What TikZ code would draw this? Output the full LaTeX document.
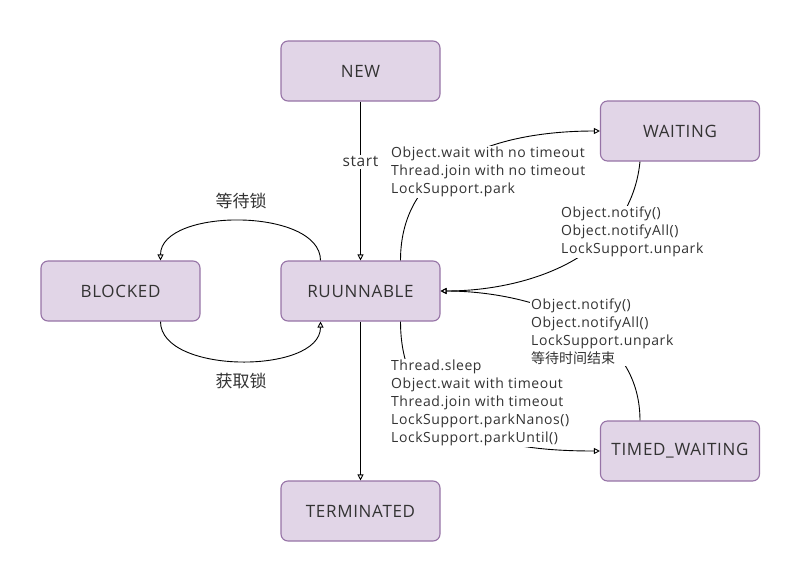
\documentclass[tikz,border=0pt]{standalone}
\usepackage{fontspec}
\setmainfont{Open Sans}[LetterSpace=4]
\newfontfamily\cjk{Noto Sans CJK SC}
\usetikzlibrary{arrows.meta}
\definecolor{boxfill}{HTML}{E1D5E7}
\definecolor{boxline}{HTML}{9673A6}
\definecolor{txt}{HTML}{333333}
\begin{document}
\begin{tikzpicture}[x=1pt,y=-1pt,
  state/.style={draw=boxline, fill=boxfill, line width=1.1pt, rounded corners=7pt,
    minimum width=159pt, minimum height=60pt, text=txt, font=\fontsize{17}{20}\selectfont},
  lbl/.style={fill=white, align=left, inner sep=1pt, text=txt, font=\fontsize{14}{18}\selectfont, anchor=west},
  cn/.style={fill=white, inner sep=2pt, text=txt, font=\cjk\fontsize{17}{19}\selectfont},
  conn/.style={line width=0.9pt, -{Triangle[open,length=6pt,width=6pt]}}]
\useasboundingbox (0,0) rectangle (801,581);
\node[state] (new) at (360.5,71) {NEW};
\node[state] (wait) at (680,131) {WAITING};
\node[state] (blk) at (120.5,291) {BLOCKED};
\node[state] (run) at (360.5,291) {RUUNNABLE};
\node[state] (term) at (360.5,511) {TERMINATED};
\node[state] (tw) at (680,451) {TIMED\_WAITING};

\draw[conn] (new) -- node[pos=0.38, fill=white, text=txt, font=\fontsize{15.5}{18}\selectfont, inner sep=2pt] (startl) {start} (run);
\draw[conn] (run) -- (term);

\draw[conn] ([xshift=40pt]run.north) .. controls +(0,-100) and +(-100,0) .. (wait.west);
\draw[conn] ([xshift=-40pt]wait.south) .. controls +(-10,100) and +(80,0) .. (run.east);
\draw[conn] ([xshift=-40pt]tw.north) .. controls +(0,-100) and +(80,0) .. (run.east);
\draw[conn] ([xshift=40pt]run.south) .. controls +(0,120) and +(-80,0) .. (tw.west);

\draw[conn] ([xshift=-40pt]run.north) .. controls +(0,-53) and +(0,-53) .. ([xshift=40pt]blk.north);
\draw[conn] ([xshift=40pt]blk.south) .. controls +(0,53) and +(0,53) .. ([xshift=-40pt]run.south);

\node[lbl] (l1) at (390,172) {Object.wait with no timeout\\Thread.join with no timeout\\LockSupport.park};
\node[lbl] (l2) at (560,232) {Object.notify()\\Object.notifyAll()\\LockSupport.unpark};
\node[lbl] (l4) at (390,403) {Thread.sleep\\Object.wait with timeout\\Thread.join with timeout\\LockSupport.parkNanos()\\LockSupport.parkUntil()};
\node[lbl] (l3) at (530,332) {Object.notify()\\Object.notifyAll()\\LockSupport.unpark\\{\cjk 等待时间结束}};
\node[cn] (c1) at (241,201) {等待锁};
\node[cn] (c2) at (241,381) {获取锁};
\end{tikzpicture}
\end{document}
